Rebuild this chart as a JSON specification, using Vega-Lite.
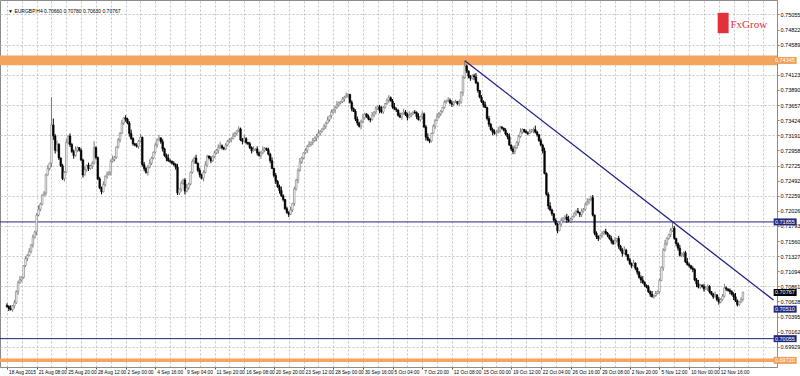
{
"$schema":"https://vega.github.io/schema/vega-lite/v6.json",
"width":777,"height":367,
"autosize":{"type":"none"},
"padding":{"left":0,"top":0,"right":23,"bottom":9},
"background":"#ffffff",
"config":{"view":{"stroke":"#8c8c8c","strokeWidth":1},"axis":{"title":null,"labelFont":"Liberation Sans","labelColor":"#000000"}},
"datasets":{
"bars":[
{"i":0,"o":0.7057,"h":0.7060,"l":0.7053,"c":0.7055},
{"i":1,"o":0.7055,"h":0.7057,"l":0.7048,"c":0.7052},
{"i":2,"o":0.7052,"h":0.7057,"l":0.7049,"c":0.7050},
{"i":3,"o":0.7050,"h":0.7057,"l":0.7047,"c":0.7056},
{"i":4,"o":0.7056,"h":0.7065,"l":0.7052,"c":0.7061},
{"i":5,"o":0.7061,"h":0.7080,"l":0.7059,"c":0.7078},
{"i":6,"o":0.7078,"h":0.7095,"l":0.7073,"c":0.7092},
{"i":7,"o":0.7092,"h":0.7102,"l":0.7090,"c":0.7096},
{"i":8,"o":0.7096,"h":0.7102,"l":0.7093,"c":0.7100},
{"i":9,"o":0.7100,"h":0.7119,"l":0.7098,"c":0.7118},
{"i":10,"o":0.7118,"h":0.7132,"l":0.7116,"c":0.7129},
{"i":11,"o":0.7129,"h":0.7136,"l":0.7125,"c":0.7134},
{"i":12,"o":0.7134,"h":0.7145,"l":0.7133,"c":0.7140},
{"i":13,"o":0.7140,"h":0.7151,"l":0.7137,"c":0.7150},
{"i":14,"o":0.7150,"h":0.7166,"l":0.7146,"c":0.7162},
{"i":15,"o":0.7162,"h":0.7172,"l":0.7160,"c":0.7170},
{"i":16,"o":0.7170,"h":0.7199,"l":0.7165,"c":0.7196},
{"i":17,"o":0.7196,"h":0.7211,"l":0.7194,"c":0.7205},
{"i":18,"o":0.7205,"h":0.7215,"l":0.7202,"c":0.7213},
{"i":19,"o":0.7213,"h":0.7228,"l":0.7211,"c":0.7227},
{"i":20,"o":0.7227,"h":0.7233,"l":0.7225,"c":0.7230},
{"i":21,"o":0.7230,"h":0.7260,"l":0.7226,"c":0.7258},
{"i":22,"o":0.7258,"h":0.7273,"l":0.7257,"c":0.7268},
{"i":23,"o":0.7268,"h":0.7277,"l":0.7265,"c":0.7276},
{"i":24,"o":0.7276,"h":0.7378,"l":0.7270,"c":0.7335},
{"i":25,"o":0.7335,"h":0.7345,"l":0.7312,"c":0.7318},
{"i":26,"o":0.7318,"h":0.7321,"l":0.7291,"c":0.7296},
{"i":27,"o":0.7296,"h":0.7311,"l":0.7294,"c":0.7305},
{"i":28,"o":0.7305,"h":0.7307,"l":0.7281,"c":0.7284},
{"i":29,"o":0.7284,"h":0.7285,"l":0.7270,"c":0.7272},
{"i":30,"o":0.7272,"h":0.7275,"l":0.7250,"c":0.7252},
{"i":31,"o":0.7252,"h":0.7264,"l":0.7248,"c":0.7262},
{"i":32,"o":0.7262,"h":0.7313,"l":0.7261,"c":0.7308},
{"i":33,"o":0.7308,"h":0.7319,"l":0.7305,"c":0.7318},
{"i":34,"o":0.7318,"h":0.7322,"l":0.7301,"c":0.7305},
{"i":35,"o":0.7305,"h":0.7307,"l":0.7292,"c":0.7294},
{"i":36,"o":0.7294,"h":0.7297,"l":0.7283,"c":0.7288},
{"i":37,"o":0.7288,"h":0.7302,"l":0.7286,"c":0.7296},
{"i":38,"o":0.7296,"h":0.7302,"l":0.7293,"c":0.7300},
{"i":39,"o":0.7300,"h":0.7301,"l":0.7294,"c":0.7296},
{"i":40,"o":0.7296,"h":0.7299,"l":0.7279,"c":0.7281},
{"i":41,"o":0.7281,"h":0.7283,"l":0.7254,"c":0.7258},
{"i":42,"o":0.7258,"h":0.7271,"l":0.7257,"c":0.7266},
{"i":43,"o":0.7266,"h":0.7274,"l":0.7263,"c":0.7273},
{"i":44,"o":0.7273,"h":0.7277,"l":0.7264,"c":0.7268},
{"i":45,"o":0.7268,"h":0.7274,"l":0.7266,"c":0.7272},
{"i":46,"o":0.7272,"h":0.7279,"l":0.7267,"c":0.7276},
{"i":47,"o":0.7276,"h":0.7310,"l":0.7274,"c":0.7300},
{"i":48,"o":0.7300,"h":0.7302,"l":0.7282,"c":0.7285},
{"i":49,"o":0.7285,"h":0.7286,"l":0.7250,"c":0.7252},
{"i":50,"o":0.7252,"h":0.7255,"l":0.7236,"c":0.7238},
{"i":51,"o":0.7238,"h":0.7240,"l":0.7228,"c":0.7232},
{"i":52,"o":0.7232,"h":0.7248,"l":0.7231,"c":0.7243},
{"i":53,"o":0.7243,"h":0.7257,"l":0.7240,"c":0.7256},
{"i":54,"o":0.7256,"h":0.7263,"l":0.7252,"c":0.7259},
{"i":55,"o":0.7259,"h":0.7264,"l":0.7257,"c":0.7262},
{"i":56,"o":0.7262,"h":0.7282,"l":0.7257,"c":0.7279},
{"i":57,"o":0.7279,"h":0.7288,"l":0.7277,"c":0.7282},
{"i":58,"o":0.7282,"h":0.7287,"l":0.7279,"c":0.7285},
{"i":59,"o":0.7285,"h":0.7302,"l":0.7283,"c":0.7301},
{"i":60,"o":0.7301,"h":0.7315,"l":0.7299,"c":0.7312},
{"i":61,"o":0.7312,"h":0.7324,"l":0.7308,"c":0.7322},
{"i":62,"o":0.7322,"h":0.7343,"l":0.7321,"c":0.7338},
{"i":63,"o":0.7338,"h":0.7347,"l":0.7335,"c":0.7346},
{"i":64,"o":0.7346,"h":0.7350,"l":0.7340,"c":0.7344},
{"i":65,"o":0.7344,"h":0.7346,"l":0.7336,"c":0.7338},
{"i":66,"o":0.7338,"h":0.7341,"l":0.7317,"c":0.7322},
{"i":67,"o":0.7322,"h":0.7328,"l":0.7312,"c":0.7314},
{"i":68,"o":0.7314,"h":0.7316,"l":0.7303,"c":0.7306},
{"i":69,"o":0.7306,"h":0.7307,"l":0.7302,"c":0.7304},
{"i":70,"o":0.7304,"h":0.7307,"l":0.7300,"c":0.7302},
{"i":71,"o":0.7302,"h":0.7312,"l":0.7298,"c":0.7310},
{"i":72,"o":0.7310,"h":0.7321,"l":0.7309,"c":0.7316},
{"i":73,"o":0.7316,"h":0.7317,"l":0.7271,"c":0.7274},
{"i":74,"o":0.7274,"h":0.7278,"l":0.7264,"c":0.7268},
{"i":75,"o":0.7268,"h":0.7270,"l":0.7260,"c":0.7262},
{"i":76,"o":0.7262,"h":0.7273,"l":0.7257,"c":0.7270},
{"i":77,"o":0.7270,"h":0.7282,"l":0.7268,"c":0.7276},
{"i":78,"o":0.7276,"h":0.7286,"l":0.7273,"c":0.7284},
{"i":79,"o":0.7284,"h":0.7294,"l":0.7282,"c":0.7293},
{"i":80,"o":0.7293,"h":0.7307,"l":0.7291,"c":0.7304},
{"i":81,"o":0.7304,"h":0.7314,"l":0.7300,"c":0.7312},
{"i":82,"o":0.7312,"h":0.7320,"l":0.7311,"c":0.7315},
{"i":83,"o":0.7315,"h":0.7316,"l":0.7306,"c":0.7309},
{"i":84,"o":0.7309,"h":0.7313,"l":0.7294,"c":0.7298},
{"i":85,"o":0.7298,"h":0.7300,"l":0.7286,"c":0.7288},
{"i":86,"o":0.7288,"h":0.7291,"l":0.7279,"c":0.7284},
{"i":87,"o":0.7284,"h":0.7290,"l":0.7278,"c":0.7280},
{"i":88,"o":0.7280,"h":0.7282,"l":0.7276,"c":0.7279},
{"i":89,"o":0.7279,"h":0.7280,"l":0.7274,"c":0.7276},
{"i":90,"o":0.7276,"h":0.7279,"l":0.7272,"c":0.7274},
{"i":91,"o":0.7274,"h":0.7276,"l":0.7266,"c":0.7270},
{"i":92,"o":0.7270,"h":0.7275,"l":0.7227,"c":0.7230},
{"i":93,"o":0.7230,"h":0.7237,"l":0.7227,"c":0.7236},
{"i":94,"o":0.7236,"h":0.7249,"l":0.7232,"c":0.7245},
{"i":95,"o":0.7245,"h":0.7252,"l":0.7243,"c":0.7250},
{"i":96,"o":0.7250,"h":0.7253,"l":0.7228,"c":0.7233},
{"i":97,"o":0.7233,"h":0.7244,"l":0.7231,"c":0.7238},
{"i":98,"o":0.7238,"h":0.7246,"l":0.7235,"c":0.7244},
{"i":99,"o":0.7244,"h":0.7263,"l":0.7242,"c":0.7262},
{"i":100,"o":0.7262,"h":0.7282,"l":0.7260,"c":0.7279},
{"i":101,"o":0.7279,"h":0.7286,"l":0.7275,"c":0.7284},
{"i":102,"o":0.7284,"h":0.7289,"l":0.7275,"c":0.7276},
{"i":103,"o":0.7276,"h":0.7277,"l":0.7262,"c":0.7265},
{"i":104,"o":0.7265,"h":0.7269,"l":0.7254,"c":0.7258},
{"i":105,"o":0.7258,"h":0.7260,"l":0.7251,"c":0.7253},
{"i":106,"o":0.7253,"h":0.7265,"l":0.7248,"c":0.7262},
{"i":107,"o":0.7262,"h":0.7279,"l":0.7260,"c":0.7273},
{"i":108,"o":0.7273,"h":0.7289,"l":0.7270,"c":0.7287},
{"i":109,"o":0.7287,"h":0.7288,"l":0.7282,"c":0.7284},
{"i":110,"o":0.7284,"h":0.7287,"l":0.7276,"c":0.7280},
{"i":111,"o":0.7280,"h":0.7288,"l":0.7278,"c":0.7286},
{"i":112,"o":0.7286,"h":0.7295,"l":0.7284,"c":0.7292},
{"i":113,"o":0.7292,"h":0.7298,"l":0.7290,"c":0.7296},
{"i":114,"o":0.7296,"h":0.7305,"l":0.7291,"c":0.7300},
{"i":115,"o":0.7300,"h":0.7309,"l":0.7298,"c":0.7303},
{"i":116,"o":0.7303,"h":0.7305,"l":0.7297,"c":0.7300},
{"i":117,"o":0.7300,"h":0.7301,"l":0.7296,"c":0.7298},
{"i":118,"o":0.7298,"h":0.7307,"l":0.7296,"c":0.7304},
{"i":119,"o":0.7304,"h":0.7312,"l":0.7302,"c":0.7310},
{"i":120,"o":0.7310,"h":0.7315,"l":0.7307,"c":0.7312},
{"i":121,"o":0.7312,"h":0.7316,"l":0.7308,"c":0.7314},
{"i":122,"o":0.7314,"h":0.7323,"l":0.7313,"c":0.7318},
{"i":123,"o":0.7318,"h":0.7324,"l":0.7316,"c":0.7322},
{"i":124,"o":0.7322,"h":0.7327,"l":0.7319,"c":0.7326},
{"i":125,"o":0.7326,"h":0.7333,"l":0.7324,"c":0.7329},
{"i":126,"o":0.7329,"h":0.7331,"l":0.7310,"c":0.7312},
{"i":127,"o":0.7312,"h":0.7315,"l":0.7305,"c":0.7310},
{"i":128,"o":0.7310,"h":0.7320,"l":0.7308,"c":0.7314},
{"i":129,"o":0.7314,"h":0.7316,"l":0.7305,"c":0.7308},
{"i":130,"o":0.7308,"h":0.7309,"l":0.7304,"c":0.7306},
{"i":131,"o":0.7306,"h":0.7309,"l":0.7298,"c":0.7300},
{"i":132,"o":0.7300,"h":0.7302,"l":0.7291,"c":0.7295},
{"i":133,"o":0.7295,"h":0.7302,"l":0.7294,"c":0.7297},
{"i":134,"o":0.7297,"h":0.7299,"l":0.7295,"c":0.7298},
{"i":135,"o":0.7298,"h":0.7302,"l":0.7288,"c":0.7292},
{"i":136,"o":0.7292,"h":0.7294,"l":0.7286,"c":0.7288},
{"i":137,"o":0.7288,"h":0.7295,"l":0.7283,"c":0.7292},
{"i":138,"o":0.7292,"h":0.7302,"l":0.7290,"c":0.7296},
{"i":139,"o":0.7296,"h":0.7301,"l":0.7293,"c":0.7299},
{"i":140,"o":0.7299,"h":0.7300,"l":0.7295,"c":0.7297},
{"i":141,"o":0.7297,"h":0.7300,"l":0.7288,"c":0.7290},
{"i":142,"o":0.7290,"h":0.7292,"l":0.7276,"c":0.7280},
{"i":143,"o":0.7280,"h":0.7285,"l":0.7267,"c":0.7268},
{"i":144,"o":0.7268,"h":0.7269,"l":0.7254,"c":0.7257},
{"i":145,"o":0.7257,"h":0.7261,"l":0.7244,"c":0.7248},
{"i":146,"o":0.7248,"h":0.7250,"l":0.7238,"c":0.7240},
{"i":147,"o":0.7240,"h":0.7243,"l":0.7229,"c":0.7234},
{"i":148,"o":0.7234,"h":0.7240,"l":0.7224,"c":0.7226},
{"i":149,"o":0.7226,"h":0.7228,"l":0.7217,"c":0.7220},
{"i":150,"o":0.7220,"h":0.7221,"l":0.7204,"c":0.7206},
{"i":151,"o":0.7206,"h":0.7209,"l":0.7198,"c":0.7200},
{"i":152,"o":0.7200,"h":0.7202,"l":0.7193,"c":0.7197},
{"i":153,"o":0.7197,"h":0.7209,"l":0.7196,"c":0.7204},
{"i":154,"o":0.7204,"h":0.7215,"l":0.7201,"c":0.7214},
{"i":155,"o":0.7214,"h":0.7240,"l":0.7210,"c":0.7236},
{"i":156,"o":0.7236,"h":0.7252,"l":0.7234,"c":0.7250},
{"i":157,"o":0.7250,"h":0.7268,"l":0.7245,"c":0.7265},
{"i":158,"o":0.7265,"h":0.7284,"l":0.7263,"c":0.7278},
{"i":159,"o":0.7278,"h":0.7286,"l":0.7275,"c":0.7284},
{"i":160,"o":0.7284,"h":0.7293,"l":0.7282,"c":0.7292},
{"i":161,"o":0.7292,"h":0.7299,"l":0.7290,"c":0.7296},
{"i":162,"o":0.7296,"h":0.7304,"l":0.7292,"c":0.7302},
{"i":163,"o":0.7302,"h":0.7310,"l":0.7301,"c":0.7305},
{"i":164,"o":0.7305,"h":0.7309,"l":0.7302,"c":0.7308},
{"i":165,"o":0.7308,"h":0.7315,"l":0.7304,"c":0.7311},
{"i":166,"o":0.7311,"h":0.7317,"l":0.7309,"c":0.7315},
{"i":167,"o":0.7315,"h":0.7321,"l":0.7310,"c":0.7318},
{"i":168,"o":0.7318,"h":0.7328,"l":0.7316,"c":0.7322},
{"i":169,"o":0.7322,"h":0.7327,"l":0.7319,"c":0.7325},
{"i":170,"o":0.7325,"h":0.7330,"l":0.7323,"c":0.7329},
{"i":171,"o":0.7329,"h":0.7336,"l":0.7327,"c":0.7333},
{"i":172,"o":0.7333,"h":0.7340,"l":0.7329,"c":0.7338},
{"i":173,"o":0.7338,"h":0.7348,"l":0.7337,"c":0.7343},
{"i":174,"o":0.7343,"h":0.7350,"l":0.7340,"c":0.7349},
{"i":175,"o":0.7349,"h":0.7359,"l":0.7345,"c":0.7355},
{"i":176,"o":0.7355,"h":0.7360,"l":0.7353,"c":0.7358},
{"i":177,"o":0.7358,"h":0.7365,"l":0.7353,"c":0.7362},
{"i":178,"o":0.7362,"h":0.7372,"l":0.7360,"c":0.7366},
{"i":179,"o":0.7366,"h":0.7371,"l":0.7363,"c":0.7369},
{"i":180,"o":0.7369,"h":0.7372,"l":0.7367,"c":0.7371},
{"i":181,"o":0.7371,"h":0.7378,"l":0.7369,"c":0.7375},
{"i":182,"o":0.7375,"h":0.7380,"l":0.7371,"c":0.7378},
{"i":183,"o":0.7378,"h":0.7385,"l":0.7377,"c":0.7380},
{"i":184,"o":0.7380,"h":0.7384,"l":0.7377,"c":0.7382},
{"i":185,"o":0.7382,"h":0.7383,"l":0.7368,"c":0.7370},
{"i":186,"o":0.7370,"h":0.7373,"l":0.7356,"c":0.7360},
{"i":187,"o":0.7360,"h":0.7362,"l":0.7355,"c":0.7356},
{"i":188,"o":0.7356,"h":0.7359,"l":0.7341,"c":0.7344},
{"i":189,"o":0.7344,"h":0.7348,"l":0.7334,"c":0.7338},
{"i":190,"o":0.7338,"h":0.7340,"l":0.7331,"c":0.7333},
{"i":191,"o":0.7333,"h":0.7343,"l":0.7328,"c":0.7340},
{"i":192,"o":0.7340,"h":0.7352,"l":0.7338,"c":0.7346},
{"i":193,"o":0.7346,"h":0.7354,"l":0.7343,"c":0.7352},
{"i":194,"o":0.7352,"h":0.7353,"l":0.7346,"c":0.7348},
{"i":195,"o":0.7348,"h":0.7351,"l":0.7342,"c":0.7344},
{"i":196,"o":0.7344,"h":0.7346,"l":0.7339,"c":0.7343},
{"i":197,"o":0.7343,"h":0.7355,"l":0.7342,"c":0.7350},
{"i":198,"o":0.7350,"h":0.7356,"l":0.7347,"c":0.7355},
{"i":199,"o":0.7355,"h":0.7364,"l":0.7351,"c":0.7360},
{"i":200,"o":0.7360,"h":0.7365,"l":0.7358,"c":0.7363},
{"i":201,"o":0.7363,"h":0.7366,"l":0.7353,"c":0.7358},
{"i":202,"o":0.7358,"h":0.7364,"l":0.7353,"c":0.7355},
{"i":203,"o":0.7355,"h":0.7364,"l":0.7352,"c":0.7362},
{"i":204,"o":0.7362,"h":0.7369,"l":0.7360,"c":0.7368},
{"i":205,"o":0.7368,"h":0.7376,"l":0.7366,"c":0.7373},
{"i":206,"o":0.7373,"h":0.7381,"l":0.7369,"c":0.7377},
{"i":207,"o":0.7377,"h":0.7379,"l":0.7371,"c":0.7372},
{"i":208,"o":0.7372,"h":0.7375,"l":0.7360,"c":0.7363},
{"i":209,"o":0.7363,"h":0.7369,"l":0.7358,"c":0.7360},
{"i":210,"o":0.7360,"h":0.7362,"l":0.7355,"c":0.7358},
{"i":211,"o":0.7358,"h":0.7359,"l":0.7348,"c":0.7350},
{"i":212,"o":0.7350,"h":0.7354,"l":0.7346,"c":0.7347},
{"i":213,"o":0.7347,"h":0.7354,"l":0.7343,"c":0.7352},
{"i":214,"o":0.7352,"h":0.7360,"l":0.7351,"c":0.7355},
{"i":215,"o":0.7355,"h":0.7358,"l":0.7349,"c":0.7351},
{"i":216,"o":0.7351,"h":0.7354,"l":0.7342,"c":0.7347},
{"i":217,"o":0.7347,"h":0.7356,"l":0.7345,"c":0.7350},
{"i":218,"o":0.7350,"h":0.7354,"l":0.7347,"c":0.7352},
{"i":219,"o":0.7352,"h":0.7356,"l":0.7350,"c":0.7355},
{"i":220,"o":0.7355,"h":0.7358,"l":0.7352,"c":0.7354},
{"i":221,"o":0.7354,"h":0.7356,"l":0.7344,"c":0.7348},
{"i":222,"o":0.7348,"h":0.7353,"l":0.7342,"c":0.7343},
{"i":223,"o":0.7343,"h":0.7349,"l":0.7340,"c":0.7348},
{"i":224,"o":0.7348,"h":0.7356,"l":0.7344,"c":0.7352},
{"i":225,"o":0.7352,"h":0.7354,"l":0.7330,"c":0.7332},
{"i":226,"o":0.7332,"h":0.7335,"l":0.7311,"c":0.7316},
{"i":227,"o":0.7316,"h":0.7322,"l":0.7310,"c":0.7312},
{"i":228,"o":0.7312,"h":0.7314,"l":0.7307,"c":0.7310},
{"i":229,"o":0.7310,"h":0.7323,"l":0.7308,"c":0.7322},
{"i":230,"o":0.7322,"h":0.7336,"l":0.7321,"c":0.7333},
{"i":231,"o":0.7333,"h":0.7344,"l":0.7329,"c":0.7342},
{"i":232,"o":0.7342,"h":0.7353,"l":0.7341,"c":0.7348},
{"i":233,"o":0.7348,"h":0.7355,"l":0.7345,"c":0.7352},
{"i":234,"o":0.7352,"h":0.7358,"l":0.7349,"c":0.7356},
{"i":235,"o":0.7356,"h":0.7363,"l":0.7354,"c":0.7362},
{"i":236,"o":0.7362,"h":0.7373,"l":0.7360,"c":0.7370},
{"i":237,"o":0.7370,"h":0.7374,"l":0.7368,"c":0.7372},
{"i":238,"o":0.7372,"h":0.7378,"l":0.7371,"c":0.7373},
{"i":239,"o":0.7373,"h":0.7376,"l":0.7367,"c":0.7369},
{"i":240,"o":0.7369,"h":0.7373,"l":0.7363,"c":0.7367},
{"i":241,"o":0.7367,"h":0.7372,"l":0.7364,"c":0.7370},
{"i":242,"o":0.7370,"h":0.7374,"l":0.7369,"c":0.7371},
{"i":243,"o":0.7371,"h":0.7372,"l":0.7366,"c":0.7368},
{"i":244,"o":0.7368,"h":0.7374,"l":0.7364,"c":0.7370},
{"i":245,"o":0.7370,"h":0.7387,"l":0.7368,"c":0.7385},
{"i":246,"o":0.7385,"h":0.7411,"l":0.7380,"c":0.7408},
{"i":247,"o":0.7408,"h":0.7434,"l":0.7406,"c":0.7426},
{"i":248,"o":0.7426,"h":0.7428,"l":0.7415,"c":0.7418},
{"i":249,"o":0.7418,"h":0.7419,"l":0.7407,"c":0.7410},
{"i":250,"o":0.7410,"h":0.7412,"l":0.7403,"c":0.7407},
{"i":251,"o":0.7407,"h":0.7413,"l":0.7405,"c":0.7411},
{"i":252,"o":0.7411,"h":0.7414,"l":0.7404,"c":0.7409},
{"i":253,"o":0.7409,"h":0.7415,"l":0.7398,"c":0.7400},
{"i":254,"o":0.7400,"h":0.7402,"l":0.7385,"c":0.7388},
{"i":255,"o":0.7388,"h":0.7389,"l":0.7376,"c":0.7378},
{"i":256,"o":0.7378,"h":0.7381,"l":0.7369,"c":0.7371},
{"i":257,"o":0.7371,"h":0.7373,"l":0.7362,"c":0.7366},
{"i":258,"o":0.7366,"h":0.7371,"l":0.7361,"c":0.7362},
{"i":259,"o":0.7362,"h":0.7363,"l":0.7342,"c":0.7345},
{"i":260,"o":0.7345,"h":0.7349,"l":0.7332,"c":0.7336},
{"i":261,"o":0.7336,"h":0.7338,"l":0.7326,"c":0.7328},
{"i":262,"o":0.7328,"h":0.7331,"l":0.7319,"c":0.7324},
{"i":263,"o":0.7324,"h":0.7328,"l":0.7320,"c":0.7322},
{"i":264,"o":0.7322,"h":0.7327,"l":0.7317,"c":0.7324},
{"i":265,"o":0.7324,"h":0.7332,"l":0.7322,"c":0.7326},
{"i":266,"o":0.7326,"h":0.7334,"l":0.7323,"c":0.7332},
{"i":267,"o":0.7332,"h":0.7333,"l":0.7328,"c":0.7330},
{"i":268,"o":0.7330,"h":0.7331,"l":0.7325,"c":0.7327},
{"i":269,"o":0.7327,"h":0.7330,"l":0.7319,"c":0.7321},
{"i":270,"o":0.7321,"h":0.7323,"l":0.7313,"c":0.7317},
{"i":271,"o":0.7317,"h":0.7322,"l":0.7303,"c":0.7304},
{"i":272,"o":0.7304,"h":0.7305,"l":0.7295,"c":0.7298},
{"i":273,"o":0.7298,"h":0.7302,"l":0.7290,"c":0.7294},
{"i":274,"o":0.7294,"h":0.7304,"l":0.7290,"c":0.7300},
{"i":275,"o":0.7300,"h":0.7310,"l":0.7298,"c":0.7308},
{"i":276,"o":0.7308,"h":0.7320,"l":0.7303,"c":0.7317},
{"i":277,"o":0.7317,"h":0.7330,"l":0.7315,"c":0.7324},
{"i":278,"o":0.7324,"h":0.7330,"l":0.7321,"c":0.7328},
{"i":279,"o":0.7328,"h":0.7329,"l":0.7323,"c":0.7325},
{"i":280,"o":0.7325,"h":0.7328,"l":0.7322,"c":0.7323},
{"i":281,"o":0.7323,"h":0.7325,"l":0.7319,"c":0.7322},
{"i":282,"o":0.7322,"h":0.7329,"l":0.7321,"c":0.7325},
{"i":283,"o":0.7325,"h":0.7329,"l":0.7323,"c":0.7327},
{"i":284,"o":0.7327,"h":0.7331,"l":0.7322,"c":0.7328},
{"i":285,"o":0.7328,"h":0.7334,"l":0.7322,"c":0.7324},
{"i":286,"o":0.7324,"h":0.7326,"l":0.7317,"c":0.7320},
{"i":287,"o":0.7320,"h":0.7321,"l":0.7309,"c":0.7311},
{"i":288,"o":0.7311,"h":0.7314,"l":0.7302,"c":0.7304},
{"i":289,"o":0.7304,"h":0.7306,"l":0.7291,"c":0.7295},
{"i":290,"o":0.7295,"h":0.7300,"l":0.7259,"c":0.7260},
{"i":291,"o":0.7260,"h":0.7262,"l":0.7226,"c":0.7228},
{"i":292,"o":0.7228,"h":0.7231,"l":0.7205,"c":0.7210},
{"i":293,"o":0.7210,"h":0.7216,"l":0.7202,"c":0.7204},
{"i":294,"o":0.7204,"h":0.7206,"l":0.7195,"c":0.7198},
{"i":295,"o":0.7198,"h":0.7199,"l":0.7186,"c":0.7188},
{"i":296,"o":0.7188,"h":0.7191,"l":0.7180,"c":0.7182},
{"i":297,"o":0.7182,"h":0.7184,"l":0.7168,"c":0.7172},
{"i":298,"o":0.7172,"h":0.7187,"l":0.7171,"c":0.7182},
{"i":299,"o":0.7182,"h":0.7192,"l":0.7178,"c":0.7188},
{"i":300,"o":0.7188,"h":0.7193,"l":0.7186,"c":0.7191},
{"i":301,"o":0.7191,"h":0.7196,"l":0.7188,"c":0.7193},
{"i":302,"o":0.7193,"h":0.7198,"l":0.7184,"c":0.7189},
{"i":303,"o":0.7189,"h":0.7195,"l":0.7185,"c":0.7187},
{"i":304,"o":0.7187,"h":0.7192,"l":0.7184,"c":0.7190},
{"i":305,"o":0.7190,"h":0.7195,"l":0.7188,"c":0.7194},
{"i":306,"o":0.7194,"h":0.7201,"l":0.7192,"c":0.7198},
{"i":307,"o":0.7198,"h":0.7204,"l":0.7195,"c":0.7202},
{"i":308,"o":0.7202,"h":0.7207,"l":0.7199,"c":0.7200},
{"i":309,"o":0.7200,"h":0.7201,"l":0.7193,"c":0.7197},
{"i":310,"o":0.7197,"h":0.7206,"l":0.7193,"c":0.7202},
{"i":311,"o":0.7202,"h":0.7207,"l":0.7200,"c":0.7205},
{"i":312,"o":0.7205,"h":0.7215,"l":0.7203,"c":0.7212},
{"i":313,"o":0.7212,"h":0.7222,"l":0.7211,"c":0.7216},
{"i":314,"o":0.7216,"h":0.7222,"l":0.7213,"c":0.7220},
{"i":315,"o":0.7220,"h":0.7226,"l":0.7218,"c":0.7223},
{"i":316,"o":0.7223,"h":0.7227,"l":0.7194,"c":0.7196},
{"i":317,"o":0.7196,"h":0.7197,"l":0.7165,"c":0.7168},
{"i":318,"o":0.7168,"h":0.7171,"l":0.7159,"c":0.7163},
{"i":319,"o":0.7163,"h":0.7165,"l":0.7156,"c":0.7160},
{"i":320,"o":0.7160,"h":0.7166,"l":0.7158,"c":0.7164},
{"i":321,"o":0.7164,"h":0.7171,"l":0.7161,"c":0.7168},
{"i":322,"o":0.7168,"h":0.7172,"l":0.7165,"c":0.7171},
{"i":323,"o":0.7171,"h":0.7175,"l":0.7166,"c":0.7168},
{"i":324,"o":0.7168,"h":0.7170,"l":0.7162,"c":0.7165},
{"i":325,"o":0.7165,"h":0.7166,"l":0.7158,"c":0.7160},
{"i":326,"o":0.7160,"h":0.7164,"l":0.7152,"c":0.7156},
{"i":327,"o":0.7156,"h":0.7158,"l":0.7150,"c":0.7152},
{"i":328,"o":0.7152,"h":0.7162,"l":0.7151,"c":0.7157},
{"i":329,"o":0.7157,"h":0.7161,"l":0.7154,"c":0.7160},
{"i":330,"o":0.7160,"h":0.7164,"l":0.7144,"c":0.7148},
{"i":331,"o":0.7148,"h":0.7150,"l":0.7140,"c":0.7142},
{"i":332,"o":0.7142,"h":0.7145,"l":0.7132,"c":0.7137},
{"i":333,"o":0.7137,"h":0.7148,"l":0.7135,"c":0.7142},
{"i":334,"o":0.7142,"h":0.7144,"l":0.7132,"c":0.7135},
{"i":335,"o":0.7135,"h":0.7136,"l":0.7125,"c":0.7127},
{"i":336,"o":0.7127,"h":0.7130,"l":0.7119,"c":0.7121},
{"i":337,"o":0.7121,"h":0.7123,"l":0.7114,"c":0.7118},
{"i":338,"o":0.7118,"h":0.7127,"l":0.7117,"c":0.7122},
{"i":339,"o":0.7122,"h":0.7123,"l":0.7111,"c":0.7114},
{"i":340,"o":0.7114,"h":0.7116,"l":0.7104,"c":0.7108},
{"i":341,"o":0.7108,"h":0.7110,"l":0.7098,"c":0.7100},
{"i":342,"o":0.7100,"h":0.7103,"l":0.7091,"c":0.7096},
{"i":343,"o":0.7096,"h":0.7102,"l":0.7090,"c":0.7092},
{"i":344,"o":0.7092,"h":0.7094,"l":0.7085,"c":0.7088},
{"i":345,"o":0.7088,"h":0.7089,"l":0.7083,"c":0.7085},
{"i":346,"o":0.7085,"h":0.7088,"l":0.7076,"c":0.7078},
{"i":347,"o":0.7078,"h":0.7080,"l":0.7070,"c":0.7074},
{"i":348,"o":0.7074,"h":0.7079,"l":0.7069,"c":0.7070},
{"i":349,"o":0.7070,"h":0.7073,"l":0.7067,"c":0.7072},
{"i":350,"o":0.7072,"h":0.7079,"l":0.7070,"c":0.7075},
{"i":351,"o":0.7075,"h":0.7080,"l":0.7074,"c":0.7078},
{"i":352,"o":0.7078,"h":0.7098,"l":0.7075,"c":0.7095},
{"i":353,"o":0.7095,"h":0.7117,"l":0.7094,"c":0.7115},
{"i":354,"o":0.7115,"h":0.7145,"l":0.7110,"c":0.7142},
{"i":355,"o":0.7142,"h":0.7158,"l":0.7140,"c":0.7152},
{"i":356,"o":0.7152,"h":0.7162,"l":0.7149,"c":0.7160},
{"i":357,"o":0.7160,"h":0.7167,"l":0.7158,"c":0.7166},
{"i":358,"o":0.7166,"h":0.7176,"l":0.7162,"c":0.7172},
{"i":359,"o":0.7172,"h":0.7186,"l":0.7170,"c":0.7176},
{"i":360,"o":0.7176,"h":0.7179,"l":0.7158,"c":0.7160},
{"i":361,"o":0.7160,"h":0.7161,"l":0.7148,"c":0.7152},
{"i":362,"o":0.7152,"h":0.7154,"l":0.7141,"c":0.7145},
{"i":363,"o":0.7145,"h":0.7150,"l":0.7132,"c":0.7134},
{"i":364,"o":0.7134,"h":0.7138,"l":0.7131,"c":0.7136},
{"i":365,"o":0.7136,"h":0.7140,"l":0.7131,"c":0.7138},
{"i":366,"o":0.7138,"h":0.7141,"l":0.7122,"c":0.7124},
{"i":367,"o":0.7124,"h":0.7130,"l":0.7118,"c":0.7120},
{"i":368,"o":0.7120,"h":0.7122,"l":0.7115,"c":0.7118},
{"i":369,"o":0.7118,"h":0.7119,"l":0.7112,"c":0.7114},
{"i":370,"o":0.7114,"h":0.7117,"l":0.7108,"c":0.7112},
{"i":371,"o":0.7112,"h":0.7114,"l":0.7094,"c":0.7096},
{"i":372,"o":0.7096,"h":0.7099,"l":0.7085,"c":0.7090},
{"i":373,"o":0.7090,"h":0.7096,"l":0.7083,"c":0.7085},
{"i":374,"o":0.7085,"h":0.7090,"l":0.7082,"c":0.7088},
{"i":375,"o":0.7088,"h":0.7089,"l":0.7084,"c":0.7086},
{"i":376,"o":0.7086,"h":0.7090,"l":0.7078,"c":0.7082},
{"i":377,"o":0.7082,"h":0.7087,"l":0.7081,"c":0.7084},
{"i":378,"o":0.7084,"h":0.7089,"l":0.7079,"c":0.7086},
{"i":379,"o":0.7086,"h":0.7088,"l":0.7075,"c":0.7078},
{"i":380,"o":0.7078,"h":0.7079,"l":0.7072,"c":0.7074},
{"i":381,"o":0.7074,"h":0.7076,"l":0.7067,"c":0.7070},
{"i":382,"o":0.7070,"h":0.7078,"l":0.7069,"c":0.7073},
{"i":383,"o":0.7073,"h":0.7074,"l":0.7063,"c":0.7066},
{"i":384,"o":0.7066,"h":0.7070,"l":0.7058,"c":0.7062},
{"i":385,"o":0.7062,"h":0.7068,"l":0.7060,"c":0.7066},
{"i":386,"o":0.7066,"h":0.7074,"l":0.7064,"c":0.7071},
{"i":387,"o":0.7071,"h":0.7090,"l":0.7069,"c":0.7084},
{"i":388,"o":0.7084,"h":0.7086,"l":0.7079,"c":0.7082},
{"i":389,"o":0.7082,"h":0.7083,"l":0.7078,"c":0.7080},
{"i":390,"o":0.7080,"h":0.7083,"l":0.7074,"c":0.7078},
{"i":391,"o":0.7078,"h":0.7080,"l":0.7072,"c":0.7074},
{"i":392,"o":0.7074,"h":0.7077,"l":0.7065,"c":0.7070},
{"i":393,"o":0.7070,"h":0.7076,"l":0.7062,"c":0.7064},
{"i":394,"o":0.7064,"h":0.7066,"l":0.7055,"c":0.7058},
{"i":395,"o":0.7058,"h":0.7063,"l":0.7056,"c":0.7062},
{"i":396,"o":0.7062,"h":0.7069,"l":0.7060,"c":0.7066},
{"i":397,"o":0.7066,"h":0.7078,"l":0.7063,"c":0.70767}
],
"bands":[{"kind":"resistance","p1":0.7427,"p2":0.7442},{"kind":"support","p1":0.69695,"p2":0.6975}],
"lines":[{"p":0.71855},{"p":0.70055}],
"tags":[{"kind":"orange","p":0.74345},{"kind":"navy","p":0.71855},{"kind":"black","p":0.70767},{"kind":"navy","p":0.7051},{"kind":"navy","p":0.70055},{"kind":"orange","p":0.6972}],
"trend":[{"i1":247,"p1":0.7434,"i2":413.5,"p2":0.7065}],
"brand":[{"name":"FxGrow"}],
"caption":[{"t":"▼ EURGBP,H4  0.70660 0.70780 0.70630 0.70767"}]
},
"layer":[
{"data":{"name":"bands"},"mark":{"type":"rect","color":"#f4a45e"},
 "encoding":{"y":{"field":"p1","type":"quantitative","scale":{"domain":[0.69695,0.752],"nice":false,"zero":false},"axis":null},"y2":{"field":"p2"}}},
{"data":{"name":"lines"},"mark":{"type":"rule","color":"#24247e","strokeWidth":1},
 "encoding":{"y":{"field":"p","type":"quantitative","scale":{"domain":[0.69695,0.752],"nice":false,"zero":false},"axis":null}}},
{"data":{"name":"bars"},"mark":{"type":"rule","strokeWidth":1},
 "encoding":{
  "x":{"field":"i","type":"quantitative","scale":{"domain":[-1.065,412.7],"nice":false,"zero":false},
   "axis":{"orient":"bottom","values":[0,16,32,48,64,80,96,112,128,144,160,176,192,208,224,240,256,272,288,304,320,336,352,368,384],
    "labelExpr":"['18 Aug 2015','21 Aug 08:00','25 Aug 20:00','28 Aug 12:00','2 Sep 00:00','4 Sep 16:00','9 Sep 04:00','11 Sep 20:00','16 Sep 08:00','20 Sep 20:00','23 Sep 12:00','28 Sep 00:00','30 Sep 16:00','5 Oct 04:00','7 Oct 20:00','12 Oct 08:00','15 Oct 00:00','19 Oct 12:00','22 Oct 04:00','26 Oct 16:00','29 Oct 08:00','2 Nov 20:00','5 Nov 12:00','10 Nov 00:00','12 Nov 16:00'][round(datum.value/16)]",
    "labelAlign":"left","labelBaseline":"top","labelFontSize":4.8,"labelPadding":0.5,"labelOffset":1.5,"tickSize":2,"tickColor":"#555555","domain":true,"domainColor":"#8c8c8c","grid":false,"labelOverlap":false,"labelBound":false,"labelFlush":false}},
  "y":{"field":"l","type":"quantitative","scale":{"domain":[0.69695,0.752],"nice":false,"zero":false},
   "axis":{"orient":"left","values":[0.75055,0.74589,0.74123,0.73657,0.73191,0.72725,0.72259,0.71793,0.71327,0.70861,0.70395,0.69929],"grid":true,"gridColor":"#c4c4c4","gridDash":[2,2],"labels":false,"ticks":false,"domain":false}},
  "y2":{"field":"h"},
  "color":{"condition":{"test":"datum.c < datum.o","value":"#000000"},"value":"#7a7a7a"}}},
{"data":{"name":"bars"},"mark":{"type":"bar","size":1.6,"strokeWidth":0.6},
 "encoding":{
  "x":{"field":"i","type":"quantitative","scale":{"domain":[-1.065,412.7],"nice":false,"zero":false},
   "axis":{"orient":"top","values":[0,8,16,24,32,40,48,56,64,72,80,88,96,104,112,120,128,136,144,152,160,168,176,184,192,200,208,216,224,232,240,248,256,264,272,280,288,296,304,312,320,328,336,344,352,360,368,376,384,392,400,408],"grid":true,"gridColor":"#c4c4c4","gridDash":[2,2],"labels":false,"ticks":false,"domain":false}},
  "y":{"field":"o","type":"quantitative","scale":{"domain":[0.69695,0.752],"nice":false,"zero":false},
   "axis":{"orient":"right","values":[0.75055,0.74822,0.74589,0.74123,0.7389,0.73657,0.73424,0.73191,0.72958,0.72725,0.72492,0.72259,0.72026,0.71793,0.7156,0.71327,0.71094,0.70861,0.70628,0.70395,0.70162,0.69929],
    "format":".5f","labelFontSize":5.5,"labelPadding":1,"tickSize":2,"tickColor":"#808080","domain":true,"domainColor":"#8c8c8c","grid":false,"labelOverlap":false,"labelBaseline":"middle"}},
  "y2":{"field":"c"},
  "fill":{"condition":{"test":"datum.c < datum.o","value":"#000000"},"value":"#ffffff"},
  "stroke":{"condition":{"test":"datum.c < datum.o","value":"#000000"},"value":"#7a7a7a"}}},
{"data":{"name":"trend"},"mark":{"type":"rule","color":"#1f1f86","strokeWidth":1.3},
 "encoding":{"x":{"field":"i1","type":"quantitative","scale":{"domain":[-1.065,412.7],"nice":false,"zero":false},"axis":null},"x2":{"field":"i2"},
  "y":{"field":"p1","type":"quantitative","scale":{"domain":[0.69695,0.752],"nice":false,"zero":false},"axis":null},"y2":{"field":"p2"}}},
{"data":{"name":"tags"},"mark":{"type":"bar","orient":"horizontal","size":7},
 "encoding":{"x":{"datum":413.6,"type":"quantitative","scale":{"domain":[-1.065,412.7],"nice":false,"zero":false},"axis":null},"x2":{"datum":426},
  "y":{"field":"p","type":"quantitative","scale":{"domain":[0.69695,0.752],"nice":false,"zero":false},"axis":null},
  "color":{"field":"kind","type":"nominal","scale":{"domain":["orange","navy","black"],"range":["#f0a058","#20287e","#000000"]},"legend":null}}},
{"data":{"name":"tags"},"mark":{"type":"text","align":"left","baseline":"middle","font":"Liberation Sans","fontSize":5.5,"color":"#ffffff"},
 "encoding":{"x":{"datum":414.3,"type":"quantitative","scale":{"domain":[-1.065,412.7],"nice":false,"zero":false},"axis":null},
  "y":{"field":"p","type":"quantitative","scale":{"domain":[0.69695,0.752],"nice":false,"zero":false},"axis":null},
  "text":{"field":"p","type":"quantitative","format":".5f"}}},
{"data":{"name":"brand"},"mark":{"type":"rect","color":"#e2313a"},
 "encoding":{"x":{"datum":383.4,"type":"quantitative","scale":{"domain":[-1.065,412.7],"nice":false,"zero":false},"axis":null},"x2":{"datum":389.3},
  "y":{"datum":0.7508,"type":"quantitative","scale":{"domain":[0.69695,0.752],"nice":false,"zero":false},"axis":null},"y2":{"datum":0.74765}}},
{"data":{"name":"brand"},"mark":{"type":"text","align":"left","baseline":"middle","font":"Liberation Serif","fontSize":11,"color":"#e2313a"},
 "encoding":{"x":{"datum":390.3,"type":"quantitative","scale":{"domain":[-1.065,412.7],"nice":false,"zero":false},"axis":null},
  "y":{"datum":0.7489,"type":"quantitative","scale":{"domain":[0.69695,0.752],"nice":false,"zero":false},"axis":null},
  "text":{"field":"name"}}},
{"data":{"name":"caption"},"mark":{"type":"text","align":"left","baseline":"middle","font":"Liberation Sans","fontSize":5,"color":"#000000"},
 "encoding":{"x":{"datum":0.6,"type":"quantitative","scale":{"domain":[-1.065,412.7],"nice":false,"zero":false},"axis":null},
  "y":{"datum":0.7511,"type":"quantitative","scale":{"domain":[0.69695,0.752],"nice":false,"zero":false},"axis":null},
  "text":{"field":"t"}}}
],
"resolve":{"axis":{"x":"independent","y":"independent"}}
}
